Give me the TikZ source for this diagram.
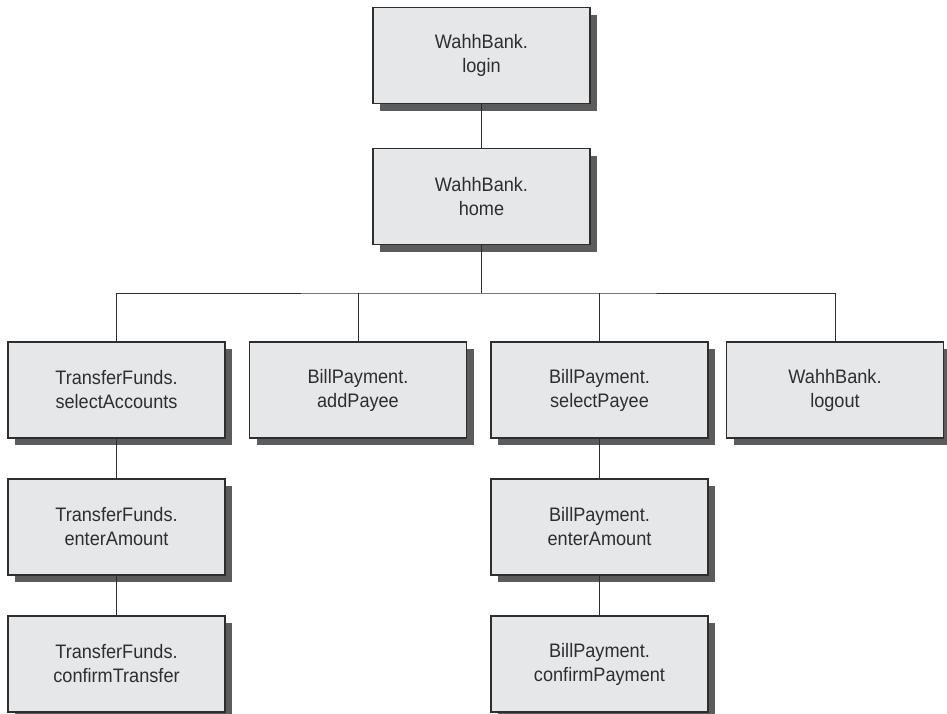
\documentclass[tikz,border=0pt]{standalone}
\usepackage{fontspec}
\setmainfont[FakeStretch=0.93]{Liberation Sans}
\usepackage{tikz}
\usepackage{xcolor}
\usetikzlibrary{positioning, shadows}
\definecolor{BoxGray}{HTML}{E6E7E9}
\definecolor{ShadowGray}{HTML}{5C5C5C}
\definecolor{InkGray}{HTML}{2E2E2E}

\tikzset{
    pagebox/.style={draw=InkGray, line width=1.3pt, fill=BoxGray,
        minimum width=217pt, minimum height=96pt, align=center,
        text=InkGray, font=\fontsize{19.5}{24}\selectfont,
        drop shadow={shadow xshift=7pt, shadow yshift=-7pt,
                     fill=ShadowGray, opacity=1}},
    link/.style={draw=InkGray, line width=1pt}
}

\begin{document}
\begin{tikzpicture}[x=1pt, y=-1pt]
\useasboundingbox (0,0) rectangle (947,713);

% top of the tree
\node[pagebox] (login) at (481.5,55.5) {WahhBank.\\login};
\node[pagebox] (home)  at (481.5,196.5) {WahhBank.\\home};

% second level
\node[pagebox] (tfSelect) at (116.5,390) {TransferFunds.\\selectAccounts};
\node[pagebox] (bpAdd)    at (358,390)   {BillPayment.\\addPayee};
\node[pagebox] (bpSelect) at (599.5,390) {BillPayment.\\selectPayee};
\node[pagebox] (logout)   at (835,390)   {WahhBank.\\logout};

% transfer and payment chains
\node[pagebox] (tfAmount)  at (116.5,527) {TransferFunds.\\enterAmount};
\node[pagebox] (tfConfirm) at (116.5,664) {TransferFunds.\\confirmTransfer};
\node[pagebox] (bpAmount)  at (599.5,527) {BillPayment.\\enterAmount};
\node[pagebox] (bpConfirm) at (599.5,664) {BillPayment.\\confirmPayment};

\coordinate (bus) at (481.5,293);

\draw[link] (login) -- (home);
\draw[link] (home) -- (bus);
\draw[link] (tfSelect.north) |- (bus) -| (logout.north);
\draw[link] (bpAdd.north) -- (bpAdd.north |- bus);
\draw[link] (bpSelect.north) -- (bpSelect.north |- bus);
\draw[link] (tfSelect) -- (tfAmount);
\draw[link] (tfAmount) -- (tfConfirm);
\draw[link] (bpSelect) -- (bpAmount);
\draw[link] (bpAmount) -- (bpConfirm);
\end{tikzpicture}
\end{document}
